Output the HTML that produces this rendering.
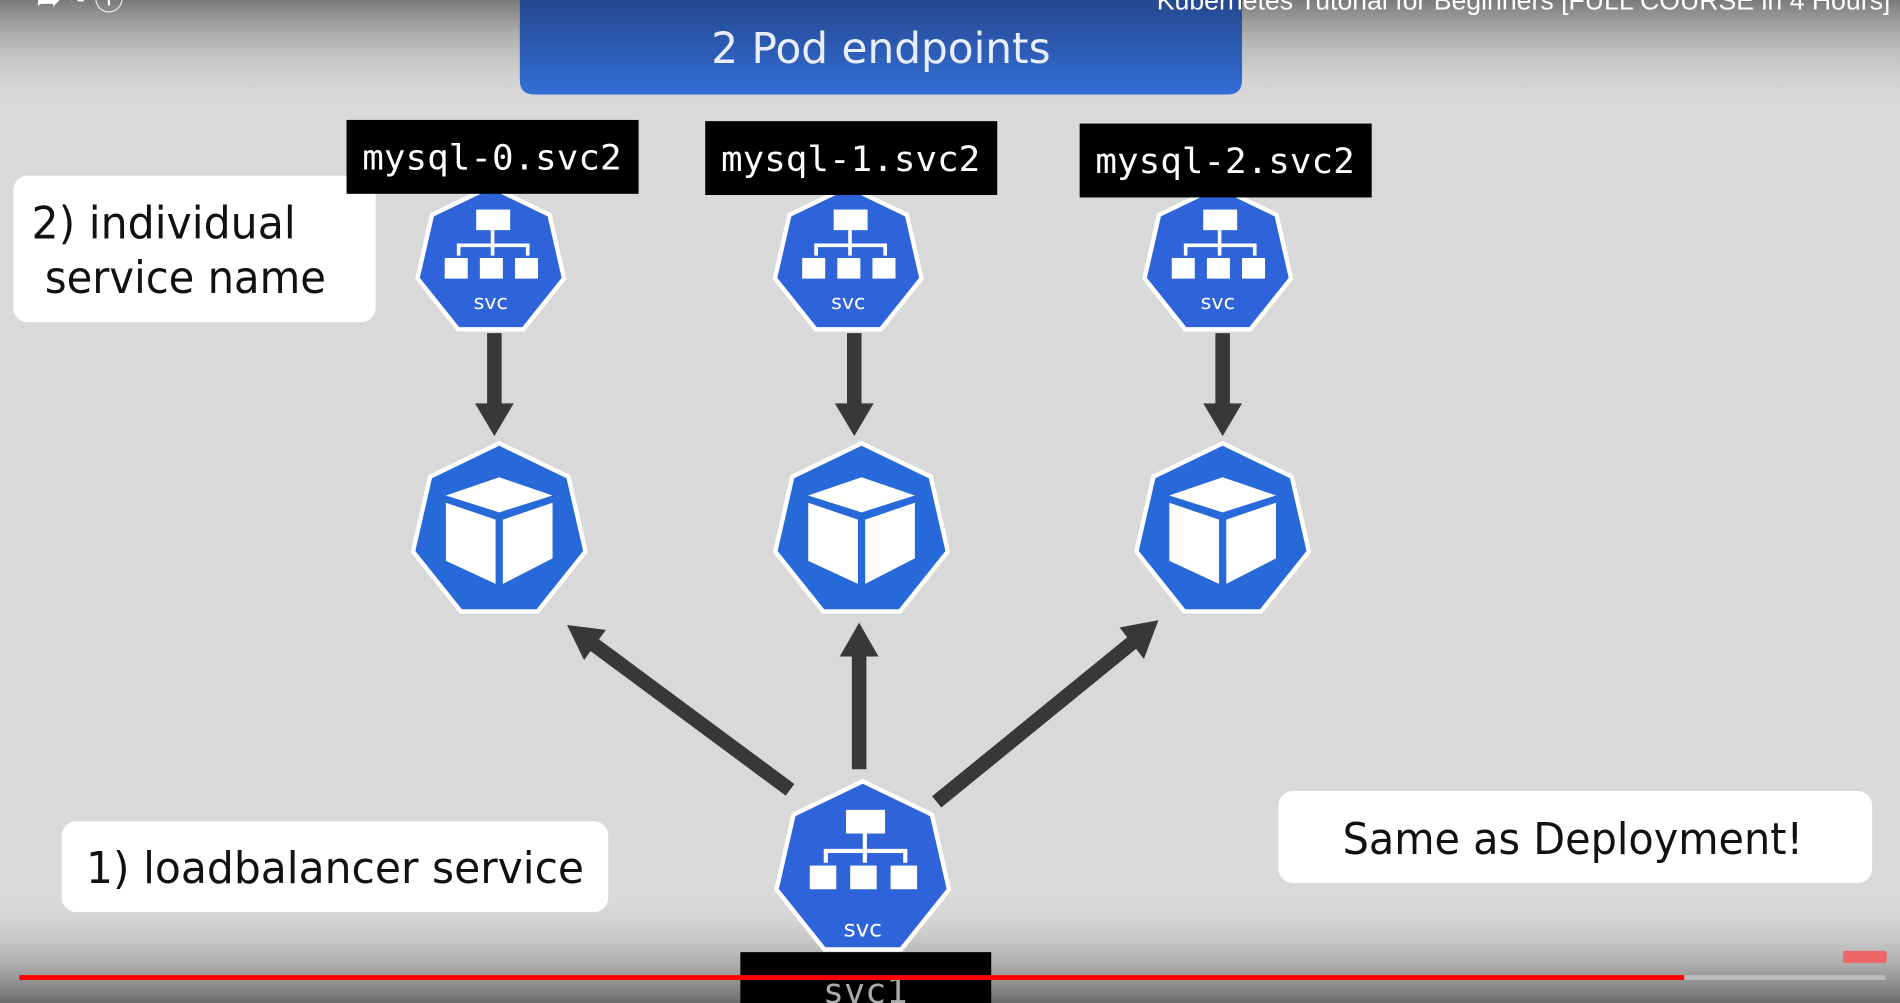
<!DOCTYPE html>
<html><head><meta charset="utf-8"><style>
html,body{margin:0;padding:0;width:1900px;height:1003px;overflow:hidden;background:#d9d9d9}
svg{display:block}
</style></head><body>
<svg width="1900" height="1003" viewBox="0 0 1568 828" preserveAspectRatio="none" xmlns="http://www.w3.org/2000/svg">
<defs>
<linearGradient id="topg" x1="0" y1="0" x2="0" y2="1">
<stop offset="0" stop-color="#7a7a7a"/><stop offset="1" stop-color="#d9d9d9" stop-opacity="0"/></linearGradient>
<linearGradient id="botg" x1="0" y1="0" x2="0" y2="1">
<stop offset="0" stop-color="#d9d9d9" stop-opacity="0"/><stop offset="1" stop-color="#6a6a6a"/></linearGradient>
<linearGradient id="blueg" x1="0" y1="0" x2="0" y2="1">
<stop offset="0" stop-color="#25488f"/><stop offset="1" stop-color="#336ed6"/></linearGradient>
<polygon id="hep" points="0,-1 0.782,-0.623 0.975,0.223 0.434,0.901 -0.434,0.901 -0.975,0.223 -0.782,-0.623"/>
<g id="svcicon">
<rect x="-12" y="-43" width="28" height="17" fill="#fff"/>
<rect x="0" y="-26" width="3" height="12" fill="#fff"/>
<rect x="-28" y="-15" width="60" height="3" fill="#fff"/>
<rect x="-28" y="-13" width="3" height="8" fill="#fff"/>
<rect x="0" y="-13" width="3" height="8" fill="#fff"/>
<rect x="29" y="-13" width="3" height="8" fill="#fff"/>
<rect x="-38" y="-3" width="19" height="17" fill="#fff"/>
<rect x="-9" y="-3" width="19" height="17" fill="#fff"/>
<rect x="20" y="-3" width="19" height="17" fill="#fff"/>
</g>
<g id="cube">
<polygon points="-44,-30 0,-45 44,-30 0,-16" fill="#fff"/>
<polygon points="-44,-24 -3,-10 -3,43 -44,24" fill="#fff"/>
<polygon points="3,-10 44,-24 44,22 3,43" fill="#fff"/>
</g>
</defs>
<rect width="1568" height="828" fill="#d9d9d9"/>
<rect width="1568" height="90" fill="url(#topg)"/>
<rect y="740" width="1568" height="88" fill="url(#botg)"/>

<path d="M429,0 H1025 V66 Q1025,78 1013,78 H441 Q429,78 429,66 Z" fill="url(#blueg)"/>
<text x="587" y="52" textLength="280" lengthAdjust="spacingAndGlyphs" font-family="DejaVu Sans, sans-serif" font-size="35" fill="#e8eefc">2 Pod endpoints</text>
<text x="1560" y="8" text-anchor="end" font-family="Liberation Sans, sans-serif" font-size="22" fill="#fff">Kubernetes Tutorial for Beginners [FULL COURSE in 4 Hours]</text>
<text x="30" y="8" font-family="Liberation Sans, sans-serif" font-size="24" fill="#fff">➦  ◔  ⓘ</text>

<rect x="11" y="145" width="299" height="121" rx="12" fill="#fff"/>
<text x="26" y="197" textLength="218" lengthAdjust="spacingAndGlyphs" font-family="DejaVu Sans, sans-serif" font-size="37" fill="#111">2) individual</text>
<text x="37" y="242" textLength="232" lengthAdjust="spacingAndGlyphs" font-family="DejaVu Sans, sans-serif" font-size="37" fill="#111">service name</text>
<rect x="51" y="678" width="451" height="75" rx="12" fill="#fff"/>
<text x="71" y="729" textLength="411" lengthAdjust="spacingAndGlyphs" font-family="DejaVu Sans, sans-serif" font-size="36" fill="#111">1) loadbalancer service</text>
<rect x="1055" y="653" width="490" height="76" rx="12" fill="#fff"/>
<text x="1108" y="705" textLength="380" lengthAdjust="spacingAndGlyphs" font-family="DejaVu Sans, sans-serif" font-size="36" fill="#111">Same as Deployment!</text>

<g stroke="#383838" stroke-width="12" fill="#383838">
<line x1="408" y1="275" x2="408" y2="335"/>
<line x1="705" y1="275" x2="705" y2="335"/>
<line x1="1009" y1="275" x2="1009" y2="335"/>
<line x1="709" y1="635" x2="709" y2="540"/>
<line x1="652" y1="652" x2="490" y2="532"/>
<line x1="773" y1="662" x2="935" y2="530"/>
</g>
<g fill="#383838">
<polygon points="392,333 424,333 408,360"/>
<polygon points="689,333 721,333 705,360"/>
<polygon points="993,333 1025,333 1009,360"/>
<polygon points="693,542 725,542 709,514"/>
<polygon points="468,516 500,520 482,545"/>
<polygon points="956,512 944,544 924,518"/>
</g>

<g transform="translate(405,216)"><use href="#hep" transform="scale(64)" fill="#fff"/><use href="#hep" transform="scale(60)" fill="#2e63d9"/><use href="#svcicon"/><text x="0" y="39" text-anchor="middle" font-family="DejaVu Sans, sans-serif" font-size="17" fill="#fff">svc</text></g>
<g transform="translate(700,216)"><use href="#hep" transform="scale(64)" fill="#fff"/><use href="#hep" transform="scale(60)" fill="#2e63d9"/><use href="#svcicon"/><text x="0" y="39" text-anchor="middle" font-family="DejaVu Sans, sans-serif" font-size="17" fill="#fff">svc</text></g>
<g transform="translate(1005,216)"><use href="#hep" transform="scale(64)" fill="#fff"/><use href="#hep" transform="scale(60)" fill="#2e63d9"/><use href="#svcicon"/><text x="0" y="39" text-anchor="middle" font-family="DejaVu Sans, sans-serif" font-size="17" fill="#fff">svc</text></g>

<g transform="translate(412,439)"><use href="#hep" transform="scale(75)" fill="#fff"/><use href="#hep" transform="scale(71)" fill="#2769d8"/><use href="#cube"/></g>
<g transform="translate(711,439)"><use href="#hep" transform="scale(75)" fill="#fff"/><use href="#hep" transform="scale(71)" fill="#2769d8"/><use href="#cube"/></g>
<g transform="translate(1009,439)"><use href="#hep" transform="scale(75)" fill="#fff"/><use href="#hep" transform="scale(71)" fill="#2769d8"/><use href="#cube"/></g>

<g transform="translate(712,718)"><use href="#hep" transform="scale(75)" fill="#fff"/><use href="#hep" transform="scale(71)" fill="#2e63d9"/><g transform="scale(1.15)"><use href="#svcicon"/></g><text x="0" y="55" text-anchor="middle" font-family="DejaVu Sans, sans-serif" font-size="19" fill="#fff">svc</text></g>

<rect x="286" y="99" width="241" height="61" fill="#000"/>
<text x="299" y="140" textLength="214" lengthAdjust="spacingAndGlyphs" font-family="DejaVu Sans Mono, Liberation Mono, monospace" font-size="29" fill="#fff">mysql-0.svc2</text>
<rect x="582" y="100" width="241" height="61" fill="#000"/>
<text x="595" y="141" textLength="214" lengthAdjust="spacingAndGlyphs" font-family="DejaVu Sans Mono, Liberation Mono, monospace" font-size="29" fill="#fff">mysql-1.svc2</text>
<rect x="891" y="102" width="241" height="61" fill="#000"/>
<text x="904" y="143" textLength="214" lengthAdjust="spacingAndGlyphs" font-family="DejaVu Sans Mono, Liberation Mono, monospace" font-size="29" fill="#fff">mysql-2.svc2</text>
<rect x="611" y="786" width="207" height="42" fill="#000"/>
<text x="714" y="828" text-anchor="middle" font-family="DejaVu Sans Mono, Liberation Mono, monospace" font-size="29" fill="#aaa">svc1</text>

<rect x="16" y="805" width="1374" height="4" fill="#f00"/>
<rect x="1390" y="805" width="166" height="4" fill="#bbb"/>
<rect x="1521" y="785" width="36" height="10" rx="2" fill="#e66"/>
</svg>
</body></html>
